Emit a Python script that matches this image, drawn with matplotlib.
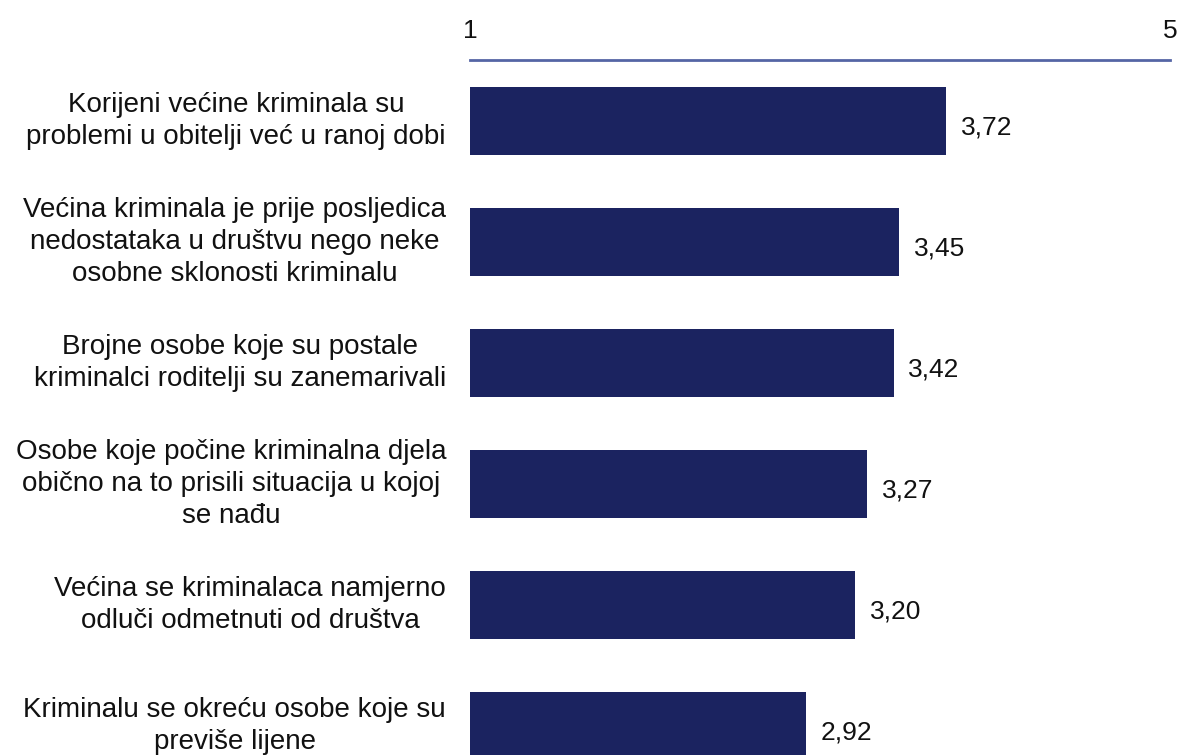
import matplotlib.pyplot as plt
from matplotlib.transforms import blended_transform_factory

plt.rcParams['font.family'] = ['Liberation Sans', 'DejaVu Sans']

# Tvrdnje i prosječne ocjene (skala 1-5)
labels = [
    "Korijeni većine kriminala su\nproblemi u obitelji već u ranoj dobi",
    "Većina kriminala je prije posljedica\nnedostataka u društvu nego neke\nosobne sklonosti kriminalu",
    "Brojne osobe koje su postale\nkriminalci roditelji su zanemarivali",
    "Osobe koje počine kriminalna djela\nobično na to prisili situacija u kojoj\nse nađu",
    "Većina se kriminalaca namjerno\nodluči odmetnuti od društva",
    "Kriminalu se okreću osobe koje su\npreviše lijene",
]
values = [3.72, 3.45, 3.42, 3.27, 3.20, 2.92]
value_labels = ["3,72", "3,45", "3,42", "3,27", "3,20", "2,92"]

bar_color = '#1b2360'

fig = plt.figure(figsize=(11.89, 7.55), dpi=100)
ax = fig.add_axes([470 / 1189, 0, 700 / 1189, 1 - 60 / 755])

ypos = list(range(len(values)))
ax.barh(ypos, [v - 1 for v in values], left=1, height=0.56, color=bar_color)

for y, v, t in zip(ypos, values, value_labels):
    ax.text(v + 0.085, y + 0.05, t, va='center', ha='left', fontsize=19, color='#111111')

trans = blended_transform_factory(fig.transFigure, ax.transData)
for y, lab in zip(ypos, labels):
    ax.text(446 / 1189, y, lab, transform=trans, ha='right', va='center',
            multialignment='center', fontsize=20, color='#111111', linespacing=1.28)

ax.set_xlim(1, 5)
ax.set_ylim(5.24, -0.504)

for s in ['bottom', 'left', 'right']:
    ax.spines[s].set_visible(False)
ax.spines['top'].set_color('#5565a5')
ax.spines['top'].set_linewidth(2)

ax.xaxis.tick_top()
ax.set_xticks([1, 5])
ax.set_xticklabels(['1', '5'])
ax.tick_params(axis='x', length=0, pad=12, labelsize=19, labelcolor='#111111')
ax.set_yticks([])

fig.savefig('out.png', dpi=100)
